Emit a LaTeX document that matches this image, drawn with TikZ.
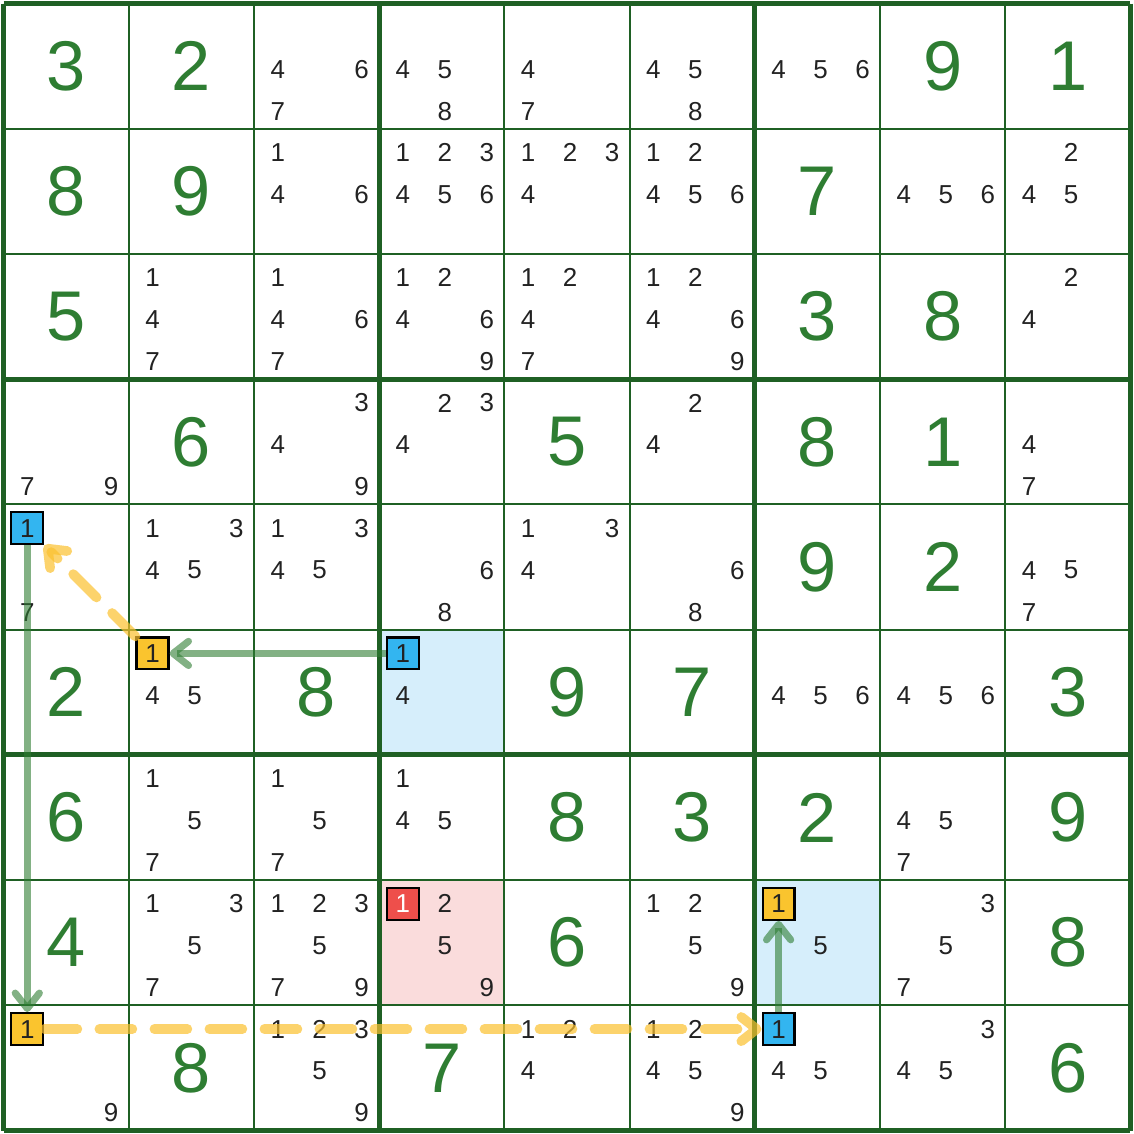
\documentclass[tikz,border=0pt]{standalone}
\usepackage{fontspec}
\setmainfont{Liberation Sans}
\usetikzlibrary{arrows.meta}

\definecolor{gridgreen}{HTML}{1F6024}
\definecolor{givengreen}{HTML}{2E7D32}
\definecolor{candgray}{HTML}{222222}
\definecolor{boxblue}{HTML}{33B5F0}
\definecolor{boxyellow}{HTML}{FAC42E}
\definecolor{boxred}{HTML}{EE4F4B}
\definecolor{cellblue}{HTML}{D6EEFB}
\definecolor{cellred}{HTML}{FADCDC}
\definecolor{linkyellow}{HTML}{FBC02D}

\tikzset{
  given/.style={text=givengreen,font=\fontsize{16}{16}\selectfont,inner sep=0},
  cand/.style={text=candgray,font=\fontsize{5.9}{5.9}\selectfont,inner sep=0},
  hl/.style={draw=black,line width=0.5pt,minimum size=0.255cm,inner sep=0,
    text=candgray,font=\fontsize{5.9}{5.9}\selectfont},
  strong/.style={draw=givengreen,draw opacity=0.6,line width=1.6pt,
    -{Straight Barb[round,length=3.5pt,width=5.5pt]}},
  weak/.style={draw=linkyellow,draw opacity=0.7,line width=2.2pt,line cap=round,
    dash pattern=on 7.5pt off 5pt,-{Straight Barb[round,length=3.5pt,width=5.5pt]}}
}

\begin{document}
\begin{tikzpicture}[x=1cm,y=-1cm]
    \useasboundingbox (-0.028,-0.028) rectangle (9.028,9.028);

    \fill[cellblue] (3,5) rectangle (4,6);
    \fill[cellblue] (6,7) rectangle (7,8);
    \fill[cellred] (3,7) rectangle (4,8);

    \foreach \i in {0,...,9} {
      \draw[gridgreen,line width=0.45pt] (\i,0) -- (\i,9);
      \draw[gridgreen,line width=0.45pt] (0,\i) -- (9,\i);
    }
    \foreach \i in {0,3,6,9} {
      \draw[gridgreen,line width=1.15pt] (\i,0) -- (\i,9);
      \draw[gridgreen,line width=1.15pt] (0,\i) -- (9,\i);
    }

    \foreach \r/\c/\d in {1/1/3,1/2/2,1/8/9,1/9/1,2/1/8,2/2/9,2/7/7,
        3/1/5,3/7/3,3/8/8,4/2/6,4/5/5,4/7/8,4/8/1,5/7/9,5/8/2,
        6/1/2,6/3/8,6/5/9,6/6/7,6/9/3,7/1/6,7/5/8,7/6/3,7/7/2,7/9/9,
        8/1/4,8/5/6,8/9/8,9/2/8,9/4/7,9/9/6}
      \node[given] (g-\r-\c) at (\c-0.5,\r-0.5) {\d};

    \foreach \r/\c/\cs in {1/3/{4,6,7},1/4/{4,5,8},1/5/{4,7},1/6/{4,5,8},1/7/{4,5,6},
        2/3/{1,4,6},2/4/{1,2,3,4,5,6},2/5/{1,2,3,4},2/6/{1,2,4,5,6},2/8/{4,5,6},2/9/{2,4,5},
        3/2/{1,4,7},3/3/{1,4,6,7},3/4/{1,2,4,6,9},3/5/{1,2,4,7},3/6/{1,2,4,6,9},3/9/{2,4},
        4/1/{7,9},4/3/{3,4,9},4/4/{2,3,4},4/6/{2,4},4/9/{4,7},
        5/1/{7},5/2/{1,3,4,5},5/3/{1,3,4,5},5/4/{6,8},5/5/{1,3,4},5/6/{6,8},5/9/{4,5,7},
        6/2/{4,5},6/4/{4},6/7/{4,5,6},6/8/{4,5,6},
        7/2/{1,5,7},7/3/{1,5,7},7/4/{1,4,5},7/8/{4,5,7},
        8/2/{1,3,5,7},8/3/{1,2,3,5,7,9},8/4/{2,5,9},8/6/{1,2,5,9},8/7/{5},8/8/{3,5,7},
        9/1/{9},9/3/{1,2,3,5,9},9/5/{1,2,4},9/6/{1,2,4,5,9},9/7/{4,5},9/8/{3,4,5}}
      \foreach \d in \cs {
        \pgfmathtruncatemacro{\kx}{mod(\d-1,3)}
        \pgfmathtruncatemacro{\ky}{(\d-1)/3}
        \node[cand] (k-\r-\c-\d) at (\c-0.81+0.335*\kx,\r-0.81+0.335*\ky) {\d};
      }

    \node[hl,fill=boxblue] (b51) at (0.19,4.19) {1};
    \node[hl,fill=boxyellow] (y62) at (1.19,5.19) {1};
    \node[hl,fill=boxblue] (b64) at (3.19,5.19) {1};
    \node[hl,fill=boxred,text=white] (r84) at (3.19,7.19) {1};
    \node[hl,fill=boxyellow] (y87) at (6.19,7.19) {1};
    \node[hl,fill=boxyellow] (y91) at (0.19,8.19) {1};
    \node[hl,fill=boxblue] (b97) at (6.19,8.19) {1};

    \draw[strong] (b64) -- (y62);
    \draw[weak] (y62) -- (b51);
    \draw[strong] (b51) -- (y91);
    \draw[weak] (y91) -- (b97);
    \draw[strong] (b97) -- (y87);
\end{tikzpicture}
\end{document}
